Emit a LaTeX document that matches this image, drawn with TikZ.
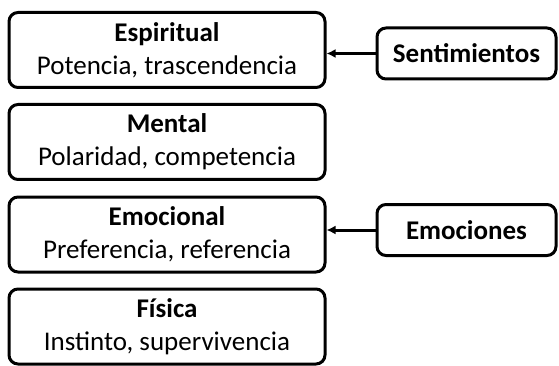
\documentclass[tikz,border=0pt]{standalone}
\usepackage{fontspec}
\setmainfont{Carlito}
\usetikzlibrary{arrows.meta, positioning}

\begin{document}
\begin{tikzpicture}[
    x=1pt, y=-1pt,
    level/.style = {draw, line width=3pt, rounded corners=9pt, minimum width=316pt, minimum height=75pt,
                    align=center, inner sep=0pt, font=\fontsize{27}{33}\selectfont},
    source/.style= {draw, line width=3pt, rounded corners=9pt, minimum width=179pt, minimum height=51pt,
                    inner sep=0pt, font=\fontsize{27}{30}\selectfont\bfseries},
    arr/.style   = {-{Latex[length=9pt, width=9pt]}, line width=3pt},
  ]
    \useasboundingbox (0,0) rectangle (559,366);
    \def\lx{167}
    \def\rx{466.5}

    % ── Levels ──
    \node[level] (esp) at (\lx, 50)    {\textbf{Espiritual}\\Potencia, trascendencia};
    \node[level] (men) at (\lx, 142)   {\textbf{Mental}\\Polaridad, competencia};
    \node[level] (emo) at (\lx, 234.5) {\textbf{Emocional}\\Preferencia, referencia};
    \node[level] (fis) at (\lx, 326.5) {\textbf{Física}\\Instinto, supervivencia};

    % ── Sources ──
    \node[source] (sen) at (\rx, 53.5) {Sentimientos};
    \node[source] (emc) at (\rx, 230)  {Emociones};

    % ── Arrows ──
    \draw[arr] (sen.west) -- (sen.west -| esp.east);
    \draw[arr] (emc.west) -- (emc.west -| emo.east);
  \end{tikzpicture}
\end{document}
